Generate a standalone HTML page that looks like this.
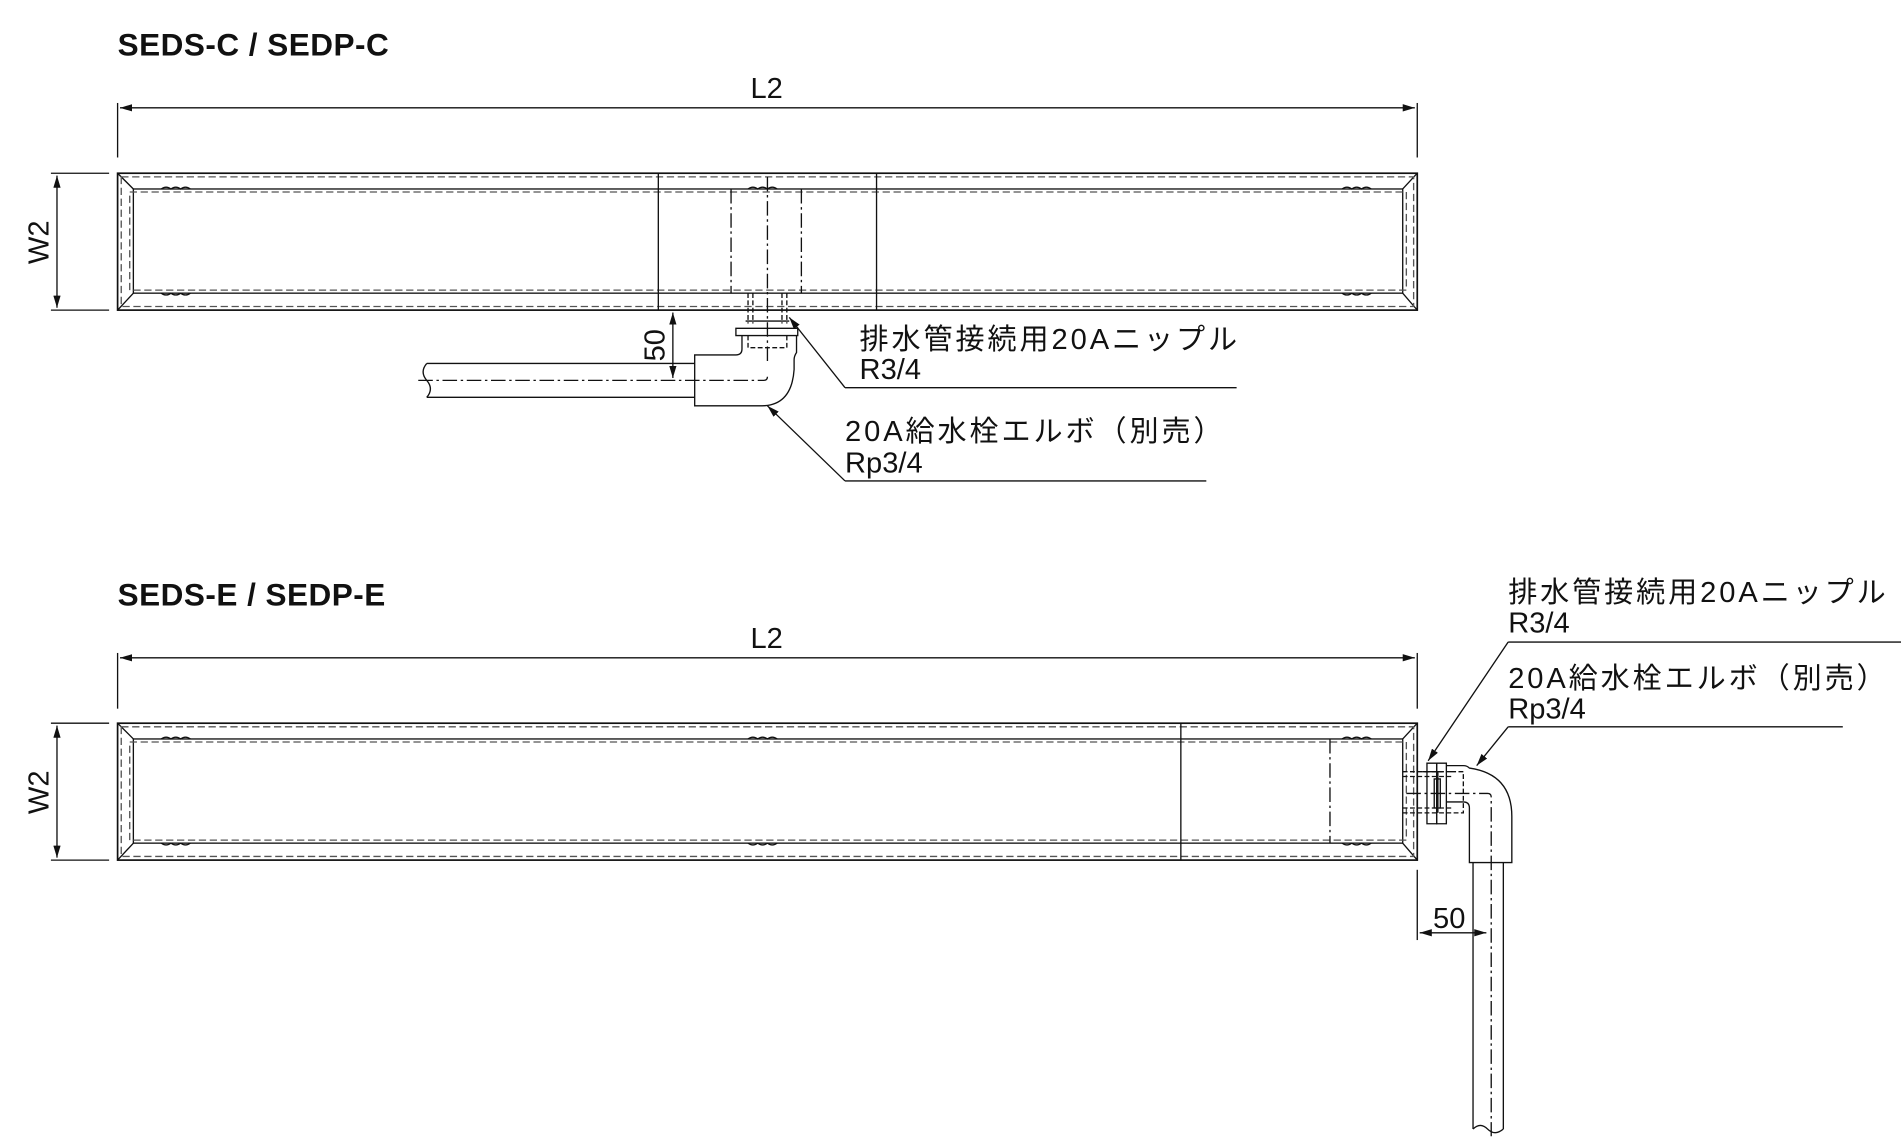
<!DOCTYPE html>
<html><head><meta charset="utf-8"><style>
html,body{margin:0;padding:0;background:#fff;}
svg{display:block;}
text{font-family:"Liberation Sans","Noto Sans CJK JP",sans-serif;fill:#111;}
.t{font-size:24px;}
.j{font-size:24px;letter-spacing:2.4px;}
.b{font-size:26px;font-weight:bold;letter-spacing:0.4px;}
</style></head><body>
<svg width="1901" height="1146" viewBox="0 0 1568 946" preserveAspectRatio="none" xmlns="http://www.w3.org/2000/svg">
<defs>
<marker id="a" viewBox="0 0 10 6" refX="10" refY="3" markerWidth="10" markerHeight="6" orient="auto-start-reverse" markerUnits="userSpaceOnUse"><path d="M0,0L10,3L0,6z" fill="#111"/></marker>
</defs>
<g stroke="#111" fill="none" stroke-width="1.1">
<!-- ===== TOP ===== -->
<line x1="97" y1="85" x2="97" y2="130"/><line x1="1169" y1="85" x2="1169" y2="130"/>
<line x1="99" y1="89" x2="1167" y2="89" marker-start="url(#a)" marker-end="url(#a)"/>
<line x1="42" y1="143" x2="90" y2="143"/><line x1="42" y1="256" x2="90" y2="256"/>
<line x1="47" y1="145" x2="47" y2="254" marker-start="url(#a)" marker-end="url(#a)"/>
<rect x="97" y="143" width="1072" height="113" stroke-width="1.4"/>
<rect x="110" y="156" width="1047" height="86"/>
<path d="M97,143L110,156M1169,143L1157,156M97,256L110,242M1169,256L1157,242"/>
<g stroke-dasharray="6,3" stroke="#555"><rect x="100" y="146" width="1066" height="107"/><rect x="107" y="158.5" width="1053" height="81"/></g>
<line x1="543" y1="143" x2="543" y2="256"/><line x1="723" y1="143" x2="723" y2="256"/>
<g stroke-dasharray="12,3,2,3"><line x1="603" y1="156" x2="603" y2="242"/><line x1="661" y1="156" x2="661" y2="242"/><line x1="633" y1="146" x2="633" y2="300"/></g>
<path d="M133,156q4,-3 8,0q4,-3 8,0q4,-3 8,0M133,242q4,3 8,0q4,3 8,0q4,3 8,0M617,156q4,-3 8,0q4,-3 8,0q4,-3 8,0M1107,156q4,-3 8,0q4,-3 8,0q4,-3 8,0M1107,242q4,3 8,0q4,3 8,0q4,3 8,0"/>
<g stroke-dasharray="4,2"><path d="M617,242V267M621,242V267M645,242V267M649,242V267M617,277v10h32v-10"/></g>
<path d="M615,265h36M607,271h51v6h-51z"/>
<path d="M612,277v11q0,5 -5,5h-34v42h55q25,0 27,-30v-8q0,-3 2,-6v-14"/>
<path d="M352,300h221M352,328h221"/>
<path d="M352,300q-6,7 0,14q6,7 0,14"/>
<path d="M345,314h285q3,0 3,-3" stroke-dasharray="12,3,2,3"/>
<line x1="555" y1="258" x2="555" y2="312" marker-start="url(#a)" marker-end="url(#a)"/>
<path d="M697,320h323"/><line x1="697" y1="320" x2="651" y2="262" marker-end="url(#a)"/>
<path d="M697,397h298"/><line x1="697" y1="397" x2="633" y2="335" marker-end="url(#a)"/>

<!-- ===== BOTTOM ===== -->
<line x1="97" y1="539" x2="97" y2="585"/><line x1="1169" y1="539" x2="1169" y2="585"/>
<line x1="99" y1="543" x2="1167" y2="543" marker-start="url(#a)" marker-end="url(#a)"/>
<line x1="42" y1="597" x2="90" y2="597"/><line x1="42" y1="710" x2="90" y2="710"/>
<line x1="47" y1="599" x2="47" y2="708" marker-start="url(#a)" marker-end="url(#a)"/>
<rect x="97" y="597" width="1072" height="113" stroke-width="1.4"/>
<rect x="110" y="610" width="1047" height="86"/>
<path d="M97,597L110,610M1169,597L1157,610M97,710L110,696M1169,710L1157,696"/>
<g stroke-dasharray="6,3" stroke="#555"><rect x="100" y="600" width="1066" height="107"/><rect x="107" y="612.5" width="1053" height="81"/></g>
<line x1="974" y1="597" x2="974" y2="710"/>
<line x1="1097" y1="610" x2="1097" y2="696" stroke-dasharray="12,3,2,3"/>
<path d="M133,610q4,-3 8,0q4,-3 8,0q4,-3 8,0M133,696q4,3 8,0q4,3 8,0q4,3 8,0M617,610q4,-3 8,0q4,-3 8,0q4,-3 8,0M617,696q4,3 8,0q4,3 8,0q4,3 8,0M1107,610q4,-3 8,0q4,-3 8,0q4,-3 8,0M1107,696q4,3 8,0q4,3 8,0q4,3 8,0"/>
<g stroke-dasharray="4,2"><path d="M1157,637h40M1157,641h40M1157,667h40M1157,671h40M1197,637h10v34h-10"/></g>
<path d="M1173,637h17M1186,637v34M1183,643h5v24h-5z"/>
<path d="M1177,630h8v50h-8z"/>
<path d="M1185,630h8v50h-8z"/>
<path d="M1193,632h14q3,0 5,2q35,5 35,40v38h-35v-45q0,-5 -5,-5h-14"/>
<path d="M1215,712v220M1240,712v220"/>
<path d="M1215,932q6,-6 12,0q6,6 13,0"/>
<path d="M1160,655h67q3,0 3,3v280" stroke-dasharray="12,3,2,3"/>
<line x1="1169" y1="718" x2="1169" y2="776"/>
<line x1="1171" y1="770" x2="1226" y2="770" marker-start="url(#a)" marker-end="url(#a)"/>
<path d="M1244,530h324"/><line x1="1244" y1="530" x2="1178" y2="628" marker-end="url(#a)"/>
<path d="M1244,600h276"/><line x1="1244" y1="600" x2="1218" y2="632" marker-end="url(#a)"/>
</g>
<text class="b" x="97" y="46">SEDS-C / SEDP-C</text>
<text class="t" x="619" y="81">L2</text>
<text class="t" transform="translate(40,200) rotate(-90)" text-anchor="middle">W2</text>
<text class="t" transform="translate(548,285) rotate(-90)" text-anchor="middle">50</text>
<text class="j" x="709" y="288">排水管接続用20Aニップル</text>
<text class="t" x="709" y="313">R3/4</text>
<text class="j" x="697" y="364">20A給水栓エルボ（別売）</text>
<text class="t" x="697" y="390">Rp3/4</text>

<text class="b" x="97" y="500">SEDS-E / SEDP-E</text>
<text class="t" x="619" y="535">L2</text>
<text class="t" transform="translate(40,654) rotate(-90)" text-anchor="middle">W2</text>
<text class="t" x="1182" y="766">50</text>
<text class="j" x="1244" y="497">排水管接続用20Aニップル</text>
<text class="t" x="1244" y="522">R3/4</text>
<text class="j" x="1244" y="568">20A給水栓エルボ（別売）</text>
<text class="t" x="1244" y="593">Rp3/4</text>
</svg>
</body></html>
